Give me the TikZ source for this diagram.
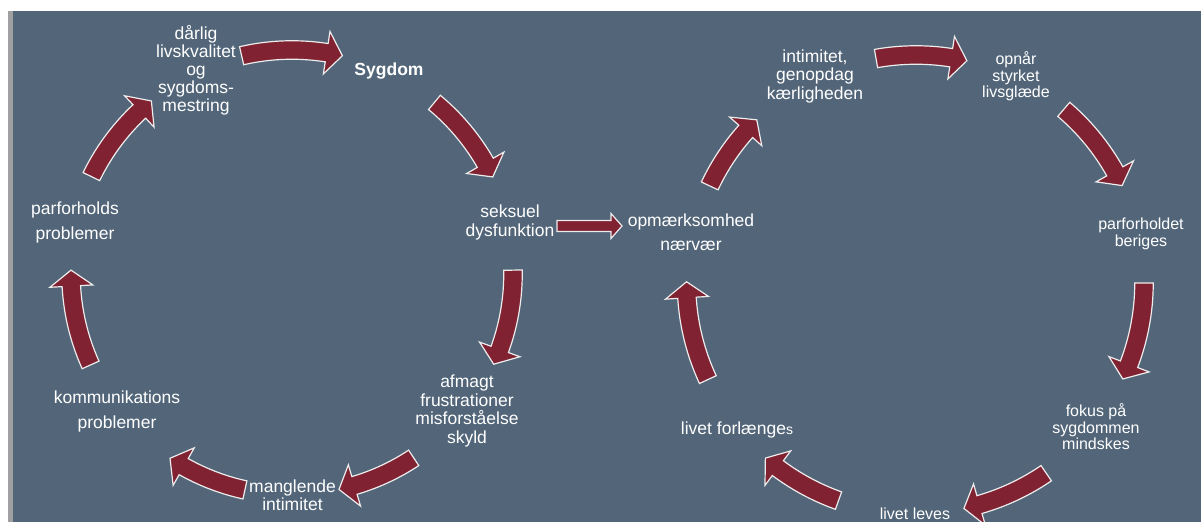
\documentclass[tikz,border=0pt]{standalone}
\usepackage{fontspec}
\setmainfont{Liberation Sans}
\definecolor{slate}{RGB}{83,102,121}
\definecolor{wine}{RGB}{128,34,50}
\definecolor{stripgray}{RGB}{160,160,160}
\definecolor{rim}{RGB}{236,236,236}
\newcommand\arSW{9.25}
\newcommand\arHW{21.5}
\newcommand\arHL{16}
% curved block arrow: centre x, centre y, radius, tail angle, tip angle
\newcommand\cycarrow[5]{%
  \pgfmathsetmacro\arA{#4}%
  \pgfmathsetmacro\arB{#5}%
  \pgfmathsetmacro\arS{sign(\arB-\arA)}%
  \pgfmathsetmacro\arM{\arB-\arS*\arHL/(#3)*180/pi}%
  \draw[blockarrow]
    plot[domain=\arA:\arM,samples=30] ({#1+(#3+\arSW)*cos(\x)},{#2+(#3+\arSW)*sin(\x)})
    -- ({#1+(#3+\arHW)*cos(\arM)},{#2+(#3+\arHW)*sin(\arM)})
    -- ({#1+(#3)*cos(\arB)},{#2+(#3)*sin(\arB)})
    -- ({#1+(#3-\arHW)*cos(\arM)},{#2+(#3-\arHW)*sin(\arM)})
    -- plot[domain=\arM:\arA,samples=30] ({#1+(#3-\arSW)*cos(\x)},{#2+(#3-\arSW)*sin(\x)})
    -- cycle;}
\begin{document}
\begin{tikzpicture}[x=0.5pt,y=-0.5pt,
  blockarrow/.style={fill=wine,draw=rim,line width=0.6pt,line join=miter},
  lbl/.style={text=white,align=center,inner sep=0pt,anchor=base},
  big/.style={font=\fontsize{8.75}{#1}\selectfont},
  small/.style={font=\fontsize{8}{#1}\selectfont}]
\useasboundingbox (0,0) rectangle (1201,522);
\fill[white] (0,0) rectangle (1201,522);
\fill[stripgray] (8,11) rectangle (12.7,522);
\fill[slate] (12.7,11) rectangle (1201,522);

% left cycle (anchor = baseline of the last line)
\node[lbl,big=9] (darlig) at (196,111.5) {dårlig\\livskvalitet\\og\\sygdoms-\\mestring};
\node[lbl,font=\fontsize{8.75}{9}\selectfont\bfseries] (sygdom) at (389,75.5) {Sygdom};
\node[lbl,big=9.5] (seksuel) at (510,236.5) {seksuel\\dysfunktion};
\node[lbl,big=9.35] (afmagt) at (467,443.6) {afmagt\\frustrationer\\misforståelse\\skyld};
\node[lbl,big=9] (manglende) at (292.5,510.5) {manglende\\intimitet};
\node[lbl,big=12.5] (kommunikation) at (117,428.5) {kommunikations\\problemer};
\node[lbl,big=12.5] (parforholds) at (75,239.5) {parforholds\\problemer};

\cycarrow{292}{274}{224}{-103}{-77}
\cycarrow{292}{274}{223}{-50.3}{-25.8}
\cycarrow{292}{274}{221}{-1}{24.1}
\cycarrow{292}{274}{220.5}{56.5}{77.7}
\cycarrow{292}{274}{221}{102.3}{123.5}
\cycarrow{292}{274}{221}{155.7}{181}
\cycarrow{292}{274}{223}{205.9}{230.9}

% connecting arrow
\draw[blockarrow] (557,220.5) -- (611,220.5) -- (611,213.5) -- (622,226)
  -- (611,238.5) -- (611,231.5) -- (557,231.5) -- cycle;

% right cycle
\node[lbl,big=12] (opm) at (691,250.5) {opmærksomhed\\nærvær};
\node[lbl,big=9.25] (intimitet) at (815,99.5) {intimitet,\\genopdag\\kærligheden};
\node[lbl,small=8.25] (opnaar) at (1016,98) {opnår\\styrket\\livsglæde};
\node[lbl,small=8.5] (beriges) at (1141,247) {parforholdet\\beriges};
\node[lbl,small=8.25] (fokus) at (1096,450) {fokus på\\sygdommen\\mindskes};
\node[lbl,small=9] (leves) at (915,519.5) {livet leves};
\node[lbl,big=9] (forlaenges) at (737,434.5) {livet forlænge{\fontsize{7}{8}\selectfont s}};

\cycarrow{916}{283}{228}{-100.1}{-77.1}
\cycarrow{916}{283}{228}{-49.6}{-25.3}
\cycarrow{916}{283}{228}{0}{24.9}
\cycarrow{916}{283}{230.5}{55.6}{78}
\cycarrow{916}{283}{231}{109.6}{130.7}
\cycarrow{916}{283}{229.5}{155.1}{180.3}
\cycarrow{916}{283}{228}{205.2}{225.7}
\end{tikzpicture}
\end{document}
